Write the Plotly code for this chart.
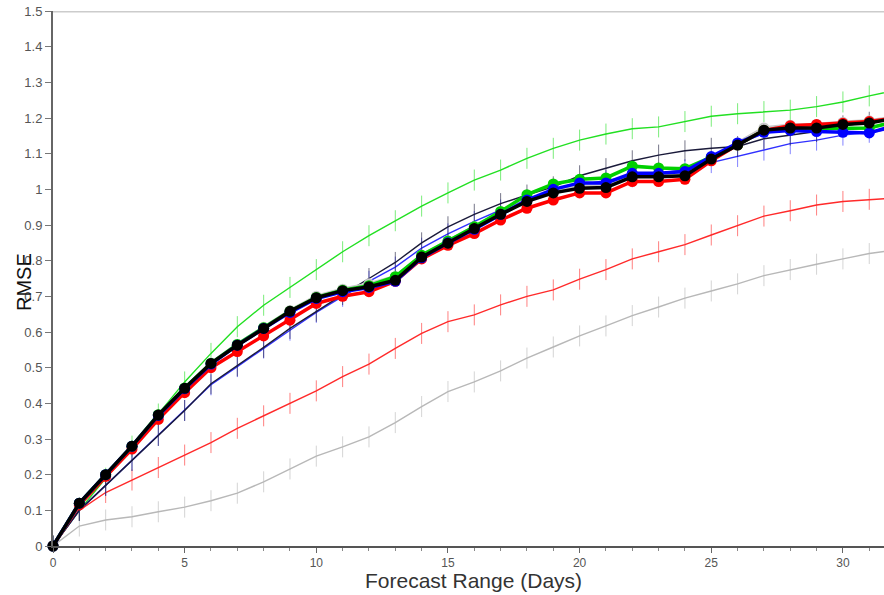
import plotly.graph_objects as go

days = list(range(0, 33))

# thin lines with vertical tick markers
green_thin = [0, 0.10, 0.19, 0.28, 0.37, 0.46, 0.54, 0.615, 0.675, 0.725, 0.775, 0.825, 0.87, 0.912, 0.953, 0.99, 1.026, 1.054, 1.087, 1.115, 1.138, 1.155, 1.17, 1.175, 1.19, 1.205, 1.212, 1.218, 1.222, 1.232, 1.245, 1.262, 1.278]
red_thin = [0, 0.10, 0.15, 0.185, 0.22, 0.255, 0.29, 0.33, 0.365, 0.40, 0.435, 0.475, 0.51, 0.554, 0.596, 0.629, 0.648, 0.676, 0.70, 0.718, 0.748, 0.775, 0.805, 0.825, 0.845, 0.872, 0.898, 0.925, 0.94, 0.956, 0.966, 0.972, 0.976]
grey_thin = [0, 0.056, 0.073, 0.082, 0.096, 0.109, 0.127, 0.148, 0.18, 0.216, 0.252, 0.278, 0.306, 0.346, 0.391, 0.433, 0.46, 0.491, 0.527, 0.558, 0.589, 0.617, 0.646, 0.67, 0.695, 0.715, 0.735, 0.758, 0.775, 0.79, 0.805, 0.82, 0.83]
blue_thin = [0, 0.10, 0.17, 0.24, 0.31, 0.38, 0.452, 0.503, 0.555, 0.605, 0.655, 0.70, 0.742, 0.782, 0.835, 0.875, 0.91, 0.942, 0.97, 0.995, 1.012, 1.025, 1.035, 1.045, 1.055, 1.075, 1.092, 1.11, 1.128, 1.138, 1.152, 1.16, 1.17]
black_thin = [0, 0.10, 0.17, 0.24, 0.31, 0.38, 0.455, 0.505, 0.557, 0.61, 0.658, 0.705, 0.75, 0.795, 0.85, 0.895, 0.93, 0.96, 0.984, 1.007, 1.038, 1.058, 1.08, 1.096, 1.108, 1.115, 1.12, 1.142, 1.152, 1.162, 1.178, 1.188, 1.195]

# thick lines with circle markers
grey_thick = [0, 0.12, 0.20, 0.28, 0.368, 0.443, 0.513, 0.566, 0.613, 0.66, 0.70, 0.72, 0.735, 0.755, 0.815, 0.855, 0.895, 0.935, 0.97, 0.995, 1.01, 1.012, 1.042, 1.042, 1.045, 1.088, 1.13, 1.172, 1.18, 1.182, 1.188, 1.192, 1.202]
red_thick = [0, 0.115, 0.195, 0.272, 0.355, 0.43, 0.50, 0.545, 0.589, 0.633, 0.68, 0.70, 0.713, 0.742, 0.805, 0.843, 0.876, 0.914, 0.947, 0.97, 0.99, 0.99, 1.022, 1.022, 1.028, 1.08, 1.125, 1.165, 1.178, 1.182, 1.185, 1.19, 1.2]
green_thick = [0, 0.12, 0.20, 0.28, 0.368, 0.443, 0.512, 0.565, 0.612, 0.658, 0.697, 0.717, 0.73, 0.755, 0.815, 0.855, 0.895, 0.938, 0.985, 1.015, 1.028, 1.032, 1.065, 1.06, 1.058, 1.09, 1.125, 1.165, 1.17, 1.17, 1.17, 1.172, 1.19]
blue_thick = [0, 0.12, 0.20, 0.28, 0.366, 0.441, 0.51, 0.563, 0.61, 0.655, 0.694, 0.713, 0.725, 0.742, 0.808, 0.85, 0.888, 0.93, 0.97, 1.0, 1.018, 1.018, 1.045, 1.045, 1.05, 1.092, 1.13, 1.16, 1.165, 1.162, 1.16, 1.158, 1.18]
black_thick = [0, 0.12, 0.20, 0.28, 0.367, 0.442, 0.512, 0.563, 0.61, 0.658, 0.696, 0.716, 0.727, 0.745, 0.81, 0.849, 0.89, 0.93, 0.966, 0.99, 1.003, 1.005, 1.035, 1.035, 1.038, 1.085, 1.124, 1.166, 1.172, 1.172, 1.182, 1.186, 1.2]

y_ticks = [0, 0.1, 0.2, 0.3, 0.4, 0.5, 0.6, 0.7, 0.8, 0.9, 1, 1.1, 1.2, 1.3, 1.4, 1.5]
y_tick_labels = ["0", "0.1", "0.2", "0.3", "0.4", "0.5", "0.6", "0.7", "0.8", "0.9", "1", "1.1", "1.2", "1.3", "1.4", "1.5"]
x_ticks = [0, 5, 10, 15, 20, 25, 30]
x_tick_labels = ["0", "5", "10", "15", "20", "25", "30"]

fig = go.Figure()

thin = [
    (grey_thin, "#b8b8b8"),
    (red_thin, "#ff2a2a"),
    (green_thin, "#22e022"),
    (blue_thin, "#3030ff"),
    (black_thin, "#1a1a3a"),
]
for vals, col in thin:
    fig.add_trace(go.Scatter(
        x=days, y=vals, mode="lines+markers",
        line=dict(color=col, width=1.4),
        marker=dict(symbol="line-ns-open", size=15, color=col, opacity=0.6,
                    line=dict(color=col, width=1)),
        showlegend=False, hoverinfo="skip"))

thick = [
    (grey_thick, "#c8c8c8"),
    (red_thick, "#ff0000"),
    (green_thick, "#00d000"),
    (blue_thick, "#0000ff"),
    (black_thick, "#000000"),
]
for vals, col in thick:
    fig.add_trace(go.Scatter(
        x=days, y=vals, mode="lines+markers",
        line=dict(color=col, width=3.5),
        marker=dict(symbol="circle", size=11, color=col),
        cliponaxis=False,
        showlegend=False, hoverinfo="skip"))

font_family = "Liberation Sans, Arial, sans-serif"

fig.update_layout(
    width=884, height=595,
    margin=dict(l=53, r=0, t=11, b=49),
    paper_bgcolor="white", plot_bgcolor="white",
    font=dict(family=font_family),
    xaxis=dict(
        range=[0, 31.56], tickvals=x_ticks, ticktext=x_tick_labels,
        showgrid=False, zeroline=False,
        showline=True, linecolor="#555555", linewidth=1.5,
        ticks="outside", ticklen=5, tickcolor="#666666", tickwidth=1,
        tickfont=dict(size=12, color="#555555"),
        minor=dict(dtick=1, tick0=0, ticks="outside", ticklen=3, tickcolor="#888888", showgrid=False),
    ),
    yaxis=dict(
        range=[0, 1.5], tickvals=y_ticks, ticktext=y_tick_labels,
        showgrid=False, zeroline=False,
        showline=True, linecolor="#666666", linewidth=2,
        ticks="outside", ticklen=6, tickcolor="#777777", tickwidth=1,
        tickfont=dict(size=13, color="#555555"),
    ),
    shapes=[dict(type="line", xref="paper", yref="y", x0=0, x1=1, y0=1.5, y1=1.5,
                 line=dict(color="#cccccc", width=3))],
    annotations=[
        dict(text="RMSE", textangle=-90, xref="paper", yref="paper",
             x=(23.5 - 53) / 831, y=(546 - 281.5) / 535, xanchor="center", yanchor="middle",
             showarrow=False, font=dict(size=20, color="#111111", family=font_family)),
        dict(text="Forecast Range (Days)", xref="paper", yref="paper",
             x=(474 - 53) / 831, y=-(580 - 546) / 535, xanchor="center", yanchor="middle",
             showarrow=False, font=dict(size=21, color="#333333", family=font_family)),
    ],
)

fig.write_html("out.html")
